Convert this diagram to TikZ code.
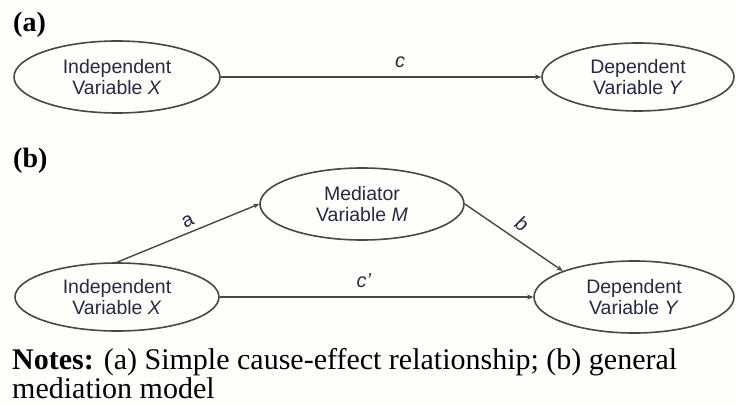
\documentclass[tikz,border=0pt]{standalone}
\usepackage{fontspec}
\setmainfont{Liberation Serif}
\newfontfamily\diagsans{Liberation Sans}
\usetikzlibrary{shapes.geometric,arrows.meta}
\definecolor{inkline}{HTML}{474747}
\definecolor{inktext}{HTML}{262A45}
\definecolor{paper}{HTML}{FEFEFB}
\tikzset{
  var/.style={ellipse, draw=inkline, line width=1.6pt, inner sep=0pt,
    align=center, text=inktext,
    font=\diagsans\fontsize{19.5}{20.5}\selectfont},
  arr/.style={draw=inkline, line width=1.4pt,
    -{Stealth[length=6pt,width=5pt]}},
  pathlbl/.style={text=inktext, inner sep=0pt,
    font=\diagsans\fontsize{20}{22}\selectfont},
  panel/.style={anchor=west, inner sep=0pt,
    font=\fontsize{28}{30}\selectfont\bfseries}
}
\begin{document}
\begin{tikzpicture}[x=1pt, y=-1pt]
  \fill[paper] (0,0) rectangle (736,406);
  \useasboundingbox (0,0) rectangle (736,406);

  % panel (a): direct effect
  \node[panel] (pa) at (13,25) {(a)};
  \node[var, minimum width=206pt, minimum height=72pt] (xa) at (117,77)
    {Independent\\Variable \textit{X}};
  \node[var, minimum width=192pt, minimum height=68pt] (ya) at (638,77)
    {Dependent\\Variable \textit{Y}};
  \draw[arr] (xa) -- (ya);
  \node[pathlbl] (lc) at (400,62) {\textit{c}};

  % panel (b): mediation model
  \node[panel] (pb) at (13,161) {(b)};
  \node[var, minimum width=204pt, minimum height=72pt] (med) at (362,204)
    {Mediator\\Variable \textit{M}};
  \node[var, minimum width=204pt, minimum height=68pt] (xb) at (117,297)
    {Independent\\Variable \textit{X}};
  \node[var, minimum width=200pt, minimum height=72pt] (yb) at (634,297)
    {Dependent\\Variable \textit{Y}};
  \draw[arr] (xb.north) -- (med.west);
  \draw[arr] (med.east) -- (yb.north west);
  \draw[arr] (xb) -- (yb);
  \node[pathlbl, rotate=25] (la) at (188,221) {a};
  \node[pathlbl, rotate=-34] (lb) at (522,224) {\textit{b}};
  \node[pathlbl] (lcp) at (364,281) {\textit{c\textquoteright}};

  % caption: the base anchor sits on the last line's baseline
  \node[anchor=base west, inner sep=0pt, align=left,
        font=\fontsize{30}{25.5}\selectfont] (notes) at (12,398)
    {\textbf{Notes:} (a) Simple cause-effect relationship; (b) general\\
     mediation model};
\end{tikzpicture}
\end{document}
